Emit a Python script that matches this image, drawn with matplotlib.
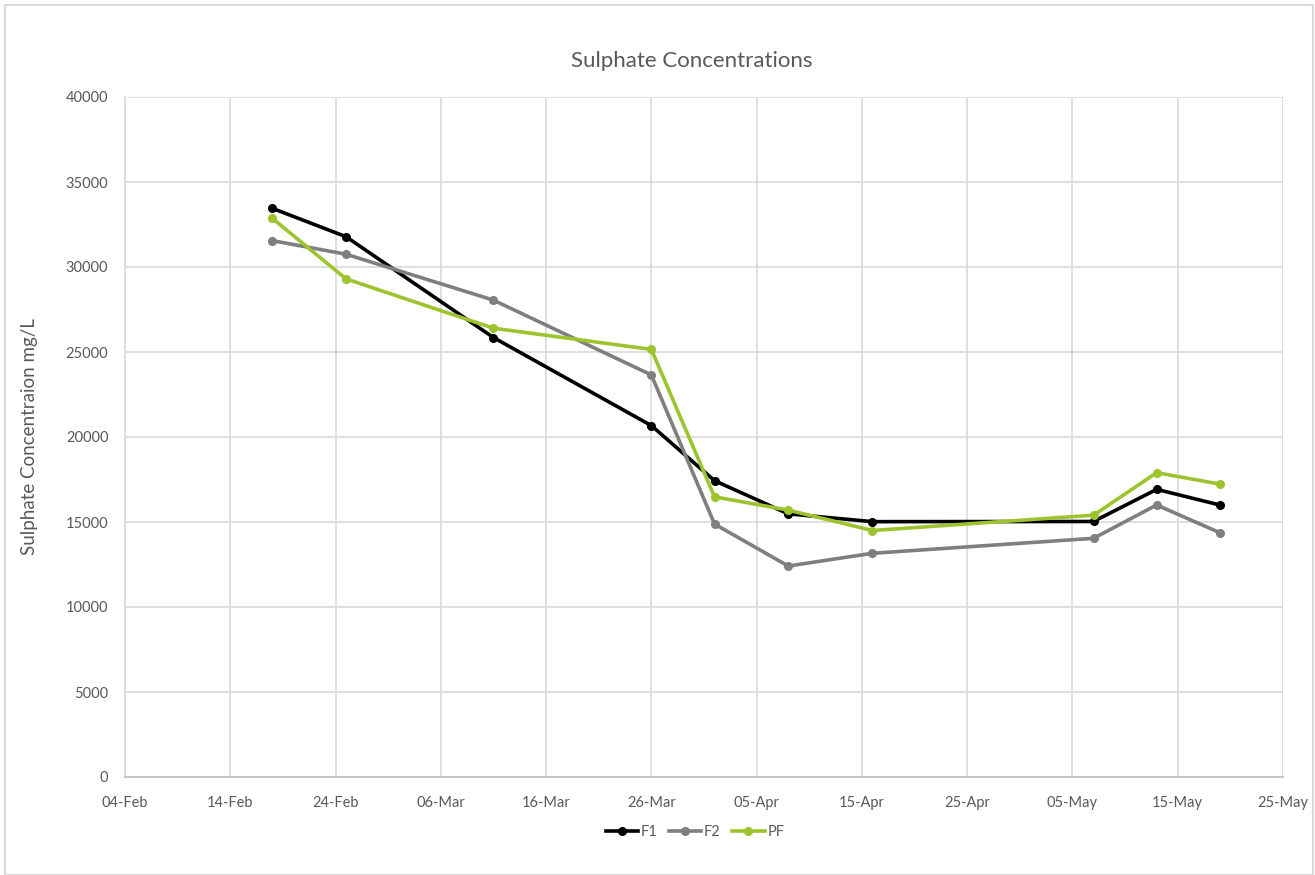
import matplotlib
matplotlib.use("Agg")
import matplotlib.pyplot as plt
import matplotlib.dates as mdates
from matplotlib.patches import Rectangle
import pandas as pd

# Sampling dates and measured sulphate concentrations (mg/L)
dates = pd.to_datetime([
    "2019-02-18", "2019-02-25", "2019-03-11", "2019-03-26", "2019-04-01",
    "2019-04-08", "2019-04-16", "2019-05-07", "2019-05-13", "2019-05-19",
])
f1 = [33450, 31780, 25850, 20670, 17430, 15480, 15020, 15030, 16920, 16000]
f2 = [31550, 30750, 28050, 23650, 14880, 12410, 13160, 14040, 16000, 14370]
pf = [32860, 29300, 26400, 25150, 16480, 15700, 14500, 15400, 17900, 17230]

series = [("F1", f1, "#000000"), ("F2", f2, "#7f7f7f"), ("PF", pf, "#9dc42e")]

plt.rcParams["font.family"] = ["Lato", "DejaVu Sans"]

fig = plt.figure(figsize=(13.15, 8.75), dpi=100)
ax = fig.add_axes([125 / 1315, 1 - 777 / 875, (1283 - 125) / 1315, (777 - 97) / 875])

for name, vals, col in series:
    ax.plot(dates, vals, color=col, lw=2.6, marker="o", ms=5.5, label=name,
            solid_joinstyle="round")

ax.set_xlim(pd.Timestamp("2019-02-04"), pd.Timestamp("2019-05-25"))
ax.set_ylim(0, 40000)
ax.set_yticks(range(0, 40001, 5000))
ticks = pd.date_range("2019-02-04", "2019-05-25", freq="10D")
ax.set_xticks(ticks)
ax.xaxis.set_major_formatter(mdates.DateFormatter("%d-%b"))

ax.grid(True, color="#d9d9d9", lw=1.2)
ax.set_axisbelow(True)
for s in ["top", "right"]:
    ax.spines[s].set_visible(False)
ax.spines["left"].set_color("#d9d9d9")
ax.spines["left"].set_linewidth(1.2)
ax.spines["bottom"].set_color("#bfbfbf")
ax.spines["bottom"].set_linewidth(1.2)
ax.tick_params(axis="both", length=0, labelsize=10.5, colors="#595959")
ax.tick_params(axis="x", pad=14)
ax.tick_params(axis="y", pad=12)

ax.set_ylabel("Sulphate Concentraion mg/L", fontsize=13.5, color="#595959", labelpad=20)
fig.text(692 / 1315, 1 - 61 / 875, "Sulphate Concentrations", ha="center", va="center",
         fontsize=16, color="#595959")

leg = fig.legend(loc="center", bbox_to_anchor=(695 / 1315, 1 - 832 / 875), ncol=3,
                 frameon=False, fontsize=10.5, handlelength=2.2, columnspacing=0.8,
                 handletextpad=0.2)
for t in leg.get_texts():
    t.set_color("#595959")

fig.patches.append(Rectangle((5 / 1315, 0), 1 - 7 / 1315, 1 - 5 / 875,
                             transform=fig.transFigure, fill=False,
                             edgecolor="#d9d9d9", lw=1.5))

fig.savefig("out.png", dpi=100, facecolor="white")
